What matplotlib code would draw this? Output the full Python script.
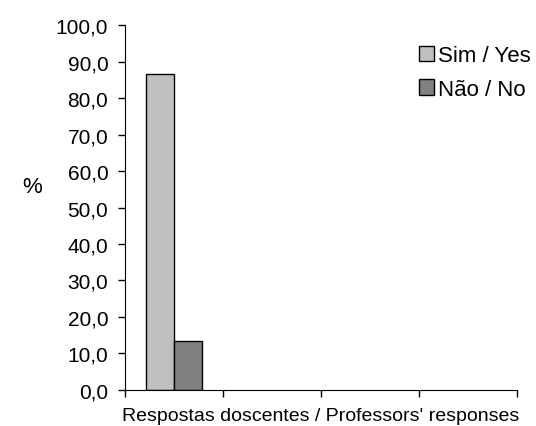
import matplotlib.pyplot as plt
import numpy as np

plt.rcParams['font.family'] = ['Liberation Sans', 'DejaVu Sans']

groups = ['Respostas doscentes / Professors\' responses']
sim = [86.7]
nao = [13.3]
n_slots = 4  # category slots on the axis, only the first is filled
yticks = np.arange(0, 101, 10)

fig = plt.figure(figsize=(5.36, 4.27), dpi=100)
ax = fig.add_axes([0.2332, 0.085, 0.7314, 0.8534])

w = 1 / 3.5
x = np.arange(len(groups))
ax.bar(x - w / 2, sim, w, color='#c0c0c0', edgecolor='black', linewidth=1, label='Sim / Yes')
ax.bar(x + w / 2, nao, w, color='#808080', edgecolor='black', linewidth=1, label='Não / No')

ax.set_xlim(-0.5, n_slots - 0.5)
ax.set_ylim(0, 100)
ax.set_xticks(np.arange(n_slots + 1) - 0.5)
ax.set_xticklabels([])
ax.set_yticks(yticks)
ax.yaxis.set_major_formatter(plt.FuncFormatter(lambda v, p: ('%.1f' % v).replace('.', ',')))
ax.tick_params(axis='y', labelsize=15, length=5, width=1, pad=7)
ax.tick_params(axis='x', length=5, width=1)
ax.spines['top'].set_visible(False)
ax.spines['right'].set_visible(False)
ax.set_xlabel(groups[0], fontsize=14, labelpad=4)
fig.text(0.06, 0.56, '%', fontsize=16, ha='center', va='center')

ax.legend(loc='upper right', bbox_to_anchor=(1.085, 1.0), frameon=False, fontsize=16,
          handlelength=0.7, handleheight=0.7, handletextpad=0.15, labelspacing=0.55)

fig.savefig('out.png', dpi=100)
